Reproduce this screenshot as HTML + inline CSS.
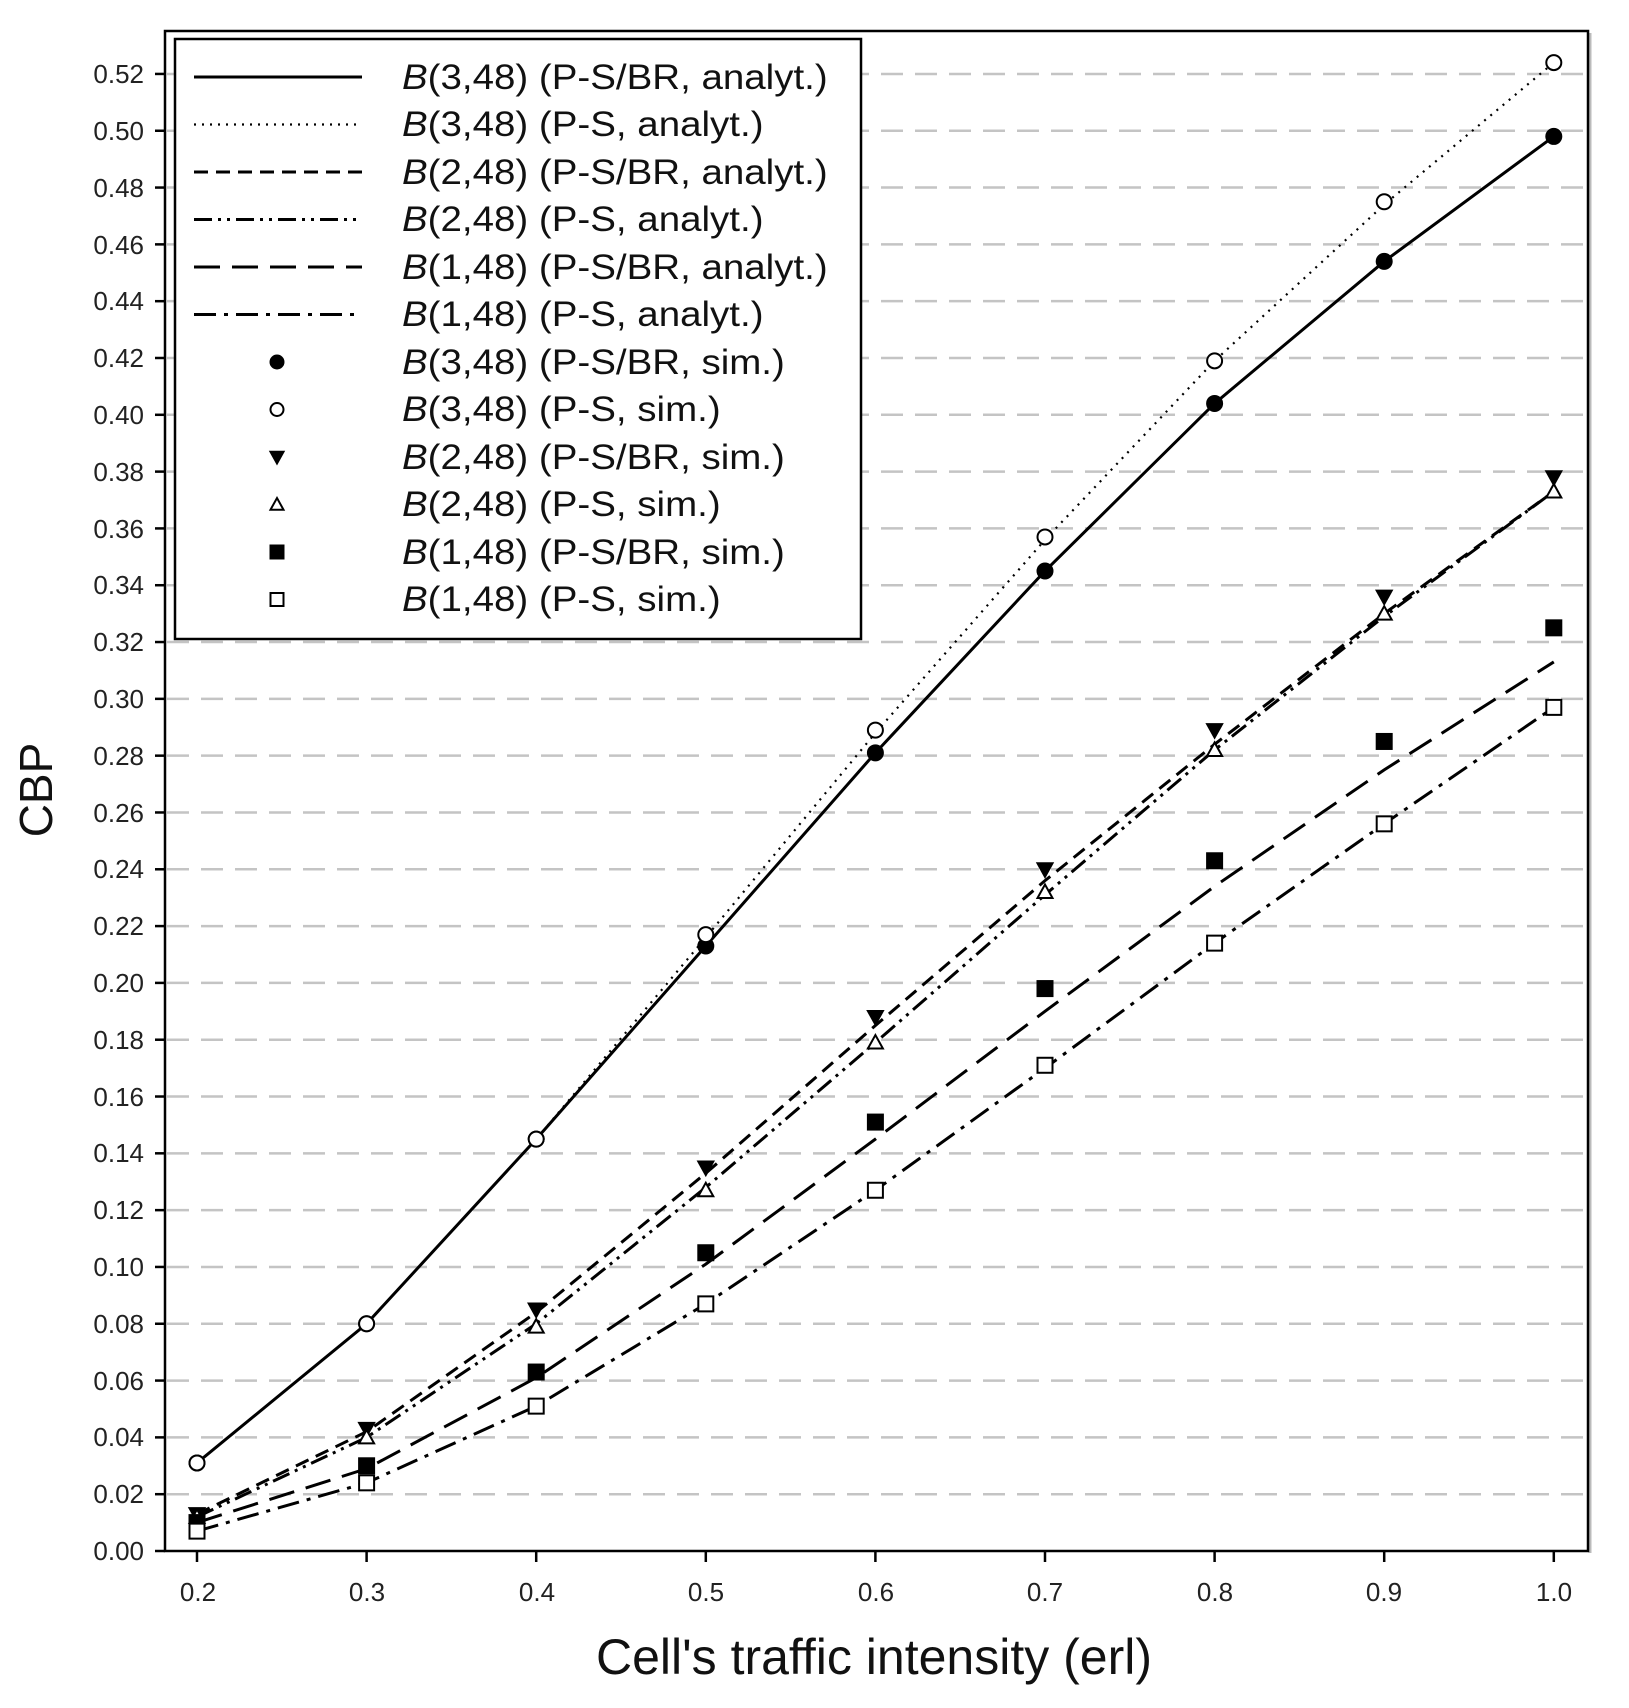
<!DOCTYPE html>
<html><head><meta charset="utf-8"><style>
html,body{margin:0;padding:0;background:#fff;}
svg{display:block;font-family:"Liberation Sans",Arial,sans-serif;}
</style></head><body>
<svg id="s" width="1629" height="1708" viewBox="0 0 1629 1708" xmlns="http://www.w3.org/2000/svg">
<rect width="1629" height="1708" fill="#fff"/>
<g id="grid" stroke="#c4c4c4" stroke-width="2.5" stroke-dasharray="22,12"></g>
<line x1="1590" y1="33" x2="1590" y2="1553" stroke="#bbb" stroke-width="3"/>
<rect x="165" y="31" width="1423" height="1520" fill="none" stroke="#000" stroke-width="2.5"/>
<g id="ticks" stroke="#000" stroke-width="2.5"></g>
<g font-size="26" fill="#222" text-anchor="end">
<text x="144" y="1560">0.00</text><text x="144" y="1503">0.02</text><text x="144" y="1446">0.04</text><text x="144" y="1390">0.06</text><text x="144" y="1333">0.08</text><text x="144" y="1276">0.10</text><text x="144" y="1219">0.12</text><text x="144" y="1162">0.14</text><text x="144" y="1106">0.16</text><text x="144" y="1049">0.18</text><text x="144" y="992">0.20</text><text x="144" y="935">0.22</text><text x="144" y="878">0.24</text><text x="144" y="822">0.26</text><text x="144" y="765">0.28</text><text x="144" y="708">0.30</text><text x="144" y="651">0.32</text><text x="144" y="594">0.34</text><text x="144" y="538">0.36</text><text x="144" y="481">0.38</text><text x="144" y="424">0.40</text><text x="144" y="367">0.42</text><text x="144" y="310">0.44</text><text x="144" y="254">0.46</text><text x="144" y="197">0.48</text><text x="144" y="140">0.50</text><text x="144" y="83">0.52</text>
</g>
<g font-size="26" fill="#222" text-anchor="middle">
<text x="198" y="1601">0.2</text><text x="367" y="1601">0.3</text><text x="537" y="1601">0.4</text><text x="706" y="1601">0.5</text><text x="876" y="1601">0.6</text><text x="1045" y="1601">0.7</text><text x="1215" y="1601">0.8</text><text x="1384" y="1601">0.9</text><text x="1554" y="1601">1.0</text>
</g>
<text x="874" y="1674" font-size="50" text-anchor="middle" fill="#111">Cell's traffic intensity (erl)</text>
<text transform="translate(52,790) rotate(-90)" font-size="46" text-anchor="middle" fill="#111">CBP</text>
<g id="series"></g>
<rect x="175" y="39" width="686" height="600" fill="#fff" stroke="#000" stroke-width="2.5"/>
<g id="leg"></g>
<g font-size="35" fill="#111" transform="translate(402,0) scale(1.1,1) translate(-402,0)">
<text x="402" y="89"><tspan font-style="italic">B</tspan>(3,48) (P-S/BR, analyt.)</text>
<text x="402" y="136"><tspan font-style="italic">B</tspan>(3,48) (P-S, analyt.)</text>
<text x="402" y="184"><tspan font-style="italic">B</tspan>(2,48) (P-S/BR, analyt.)</text>
<text x="402" y="231"><tspan font-style="italic">B</tspan>(2,48) (P-S, analyt.)</text>
<text x="402" y="279"><tspan font-style="italic">B</tspan>(1,48) (P-S/BR, analyt.)</text>
<text x="402" y="326"><tspan font-style="italic">B</tspan>(1,48) (P-S, analyt.)</text>
<text x="402" y="374"><tspan font-style="italic">B</tspan>(3,48) (P-S/BR, sim.)</text>
<text x="402" y="421"><tspan font-style="italic">B</tspan>(3,48) (P-S, sim.)</text>
<text x="402" y="469"><tspan font-style="italic">B</tspan>(2,48) (P-S/BR, sim.)</text>
<text x="402" y="516"><tspan font-style="italic">B</tspan>(2,48) (P-S, sim.)</text>
<text x="402" y="564"><tspan font-style="italic">B</tspan>(1,48) (P-S/BR, sim.)</text>
<text x="402" y="611"><tspan font-style="italic">B</tspan>(1,48) (P-S, sim.)</text>
</g>
</svg>
<script>
var NS="http://www.w3.org/2000/svg";
function el(p,t,a){var e=document.createElementNS(NS,t);for(var k in a)e.setAttribute(k,a[k]);p.appendChild(e);return e;}
function X(v){return 197+(v-0.2)*1696;}
function Y(c){return 1551-c*2840.5;}
var grid=document.getElementById('grid'),ticks=document.getElementById('ticks');
for(var i=0;i<=26;i++){var y=Y(i*0.02);
 if(i>0)el(grid,'line',{x1:167,x2:1586,y1:y,y2:y});
 el(ticks,'line',{x1:155,x2:165,y1:y,y2:y});}
for(var k=0;k<9;k++){var x=X(0.2+k*0.1);el(ticks,'line',{x1:x,x2:x,y1:1551,y2:1562});}
var xs=[0.2,0.3,0.4,0.5,0.6,0.7,0.8,0.9,1.0];
var dash={solid:'',dot:'2,6',short:'14,8',dashdotdot:'18,6,3,6,3,6',long:'26,12',dashdot:'22,8,4,8'};
var lines=[
 {d:[0.031,0.080,0.145,0.213,0.281,0.345,0.404,0.454,0.498],s:'solid'},
 {d:[0.031,0.080,0.145,0.216,0.288,0.356,0.419,0.474,0.524],s:'dot'},
 {d:[0.013,0.042,0.084,0.133,0.185,0.236,0.284,0.330,0.373],s:'short'},
 {d:[0.012,0.040,0.080,0.128,0.179,0.231,0.282,0.329,0.373],s:'dashdotdot'},
 {d:[0.010,0.029,0.061,0.101,0.145,0.190,0.234,0.275,0.313],s:'long'},
 {d:[0.007,0.024,0.051,0.087,0.127,0.170,0.214,0.256,0.297],s:'dashdot'}];
var marks=[
 {d:[0.031,0.080,0.145,0.213,0.281,0.345,0.404,0.454,0.498],m:'circle',f:1},
 {d:[0.031,0.080,0.145,0.217,0.289,0.357,0.419,0.475,0.524],m:'circle',f:0},
 {d:[0.013,0.043,0.085,0.135,0.188,0.240,0.289,0.336,0.378],m:'tri',f:1},
 {d:[0.012,0.040,0.079,0.127,0.179,0.232,0.282,0.330,0.373],m:'tri',f:0},
 {d:[0.010,0.030,0.063,0.105,0.151,0.198,0.243,0.285,0.325],m:'sq',f:1},
 {d:[0.007,0.024,0.051,0.087,0.127,0.171,0.214,0.256,0.297],m:'sq',f:0}];
var S=document.getElementById('series');
lines.forEach(function(L){var p=L.d.map(function(c,i){return X(xs[i])+','+Y(c);}).join(' ');
 var a={points:p,fill:'none',stroke:'#000','stroke-width':L.s=='dot'?2.2:3};if(dash[L.s])a['stroke-dasharray']=dash[L.s];el(S,'polyline',a);});
function mark(g,m,f,x,y,r){var a={fill:f?'#000':'#fff',stroke:'#000','stroke-width':2};
 if(m=='circle'){a.cx=x;a.cy=y;a.r=r;el(g,'circle',a);}
 else if(m=='sq'){a.x=x-r;a.y=y-r;a.width=2*r;a.height=2*r;el(g,'rect',a);}
 else{if(f)a.points=(x-r)+','+(y-r*0.8)+' '+(x+r)+','+(y-r*0.8)+' '+x+','+(y+r);
  else a.points=(x-r)+','+(y+r*0.8)+' '+(x+r)+','+(y+r*0.8)+' '+x+','+(y-r);
  el(g,'polygon',a);}}
marks.forEach(function(M){M.d.forEach(function(c,i){mark(S,M.m,M.f,X(xs[i]),Y(c),7.5);});});
var G=document.getElementById('leg');
['solid','dot','short','dashdotdot','long','dashdot'].forEach(function(s,i){var y=77+i*47.5;
 var a={x1:194,x2:362,y1:y,y2:y,stroke:'#000','stroke-width':s=='dot'?2.2:3};if(dash[s])a['stroke-dasharray']=dash[s];el(G,'line',a);});
marks.forEach(function(M,i){mark(G,M.m,M.f,277,77+(i+6)*47.5,6.5);});
</script>
</body></html>
